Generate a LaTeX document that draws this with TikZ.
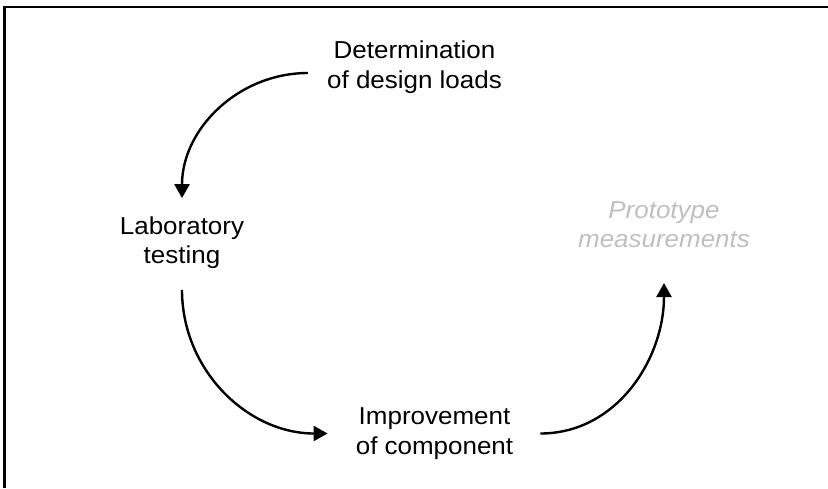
\documentclass[tikz,border=0pt]{standalone}
\usepackage{fontspec}
\setmainfont{Liberation Sans}[FakeStretch=1.06]
\usetikzlibrary{arrows.meta}

\begin{document}
\begin{tikzpicture}[x=1pt,y=-1pt,
        arrow/.style={-{Triangle[length=14pt,width=15pt]},line width=2.4pt},
        frame/.style={draw=black,line width=2.2pt},
        stage/.style={align=center,inner sep=4pt,font=\fontsize{24.5}{29.5}\selectfont},
        faded/.style={text=black!25,font=\fontsize{24.5}{29.5}\selectfont\itshape},
    ]
        \useasboundingbox (0,0) rectangle (828,488);

        % frame
        \draw[frame] (4.5,488) |- (828,7);

        % stages
        \node (design)  at (414.5,67)  [stage] {Determination\\of design loads};
        \node (lab)     at (182,242.5) [stage] {Laboratory\\testing};
        \node (improve) at (434.5,433.5) [stage] {Improvement\\of component};
        \node (proto)   at (664,224.5) [stage,faded] {Prototype\\measurements};

        % cycle
        \draw[arrow] ([xshift=-15pt,yshift=-6pt]design.west)
            to[out=180,in=90] ([yshift=14pt]lab.north);
        \draw[arrow] ([yshift=-17pt]lab.south)
            to[out=270,in=180] ([xshift=-24pt]improve.west);
        \draw[arrow] ([xshift=23pt]improve.east)
            to[out=0,in=270] ([yshift=-31pt]proto.south);
    \end{tikzpicture}
\end{document}
